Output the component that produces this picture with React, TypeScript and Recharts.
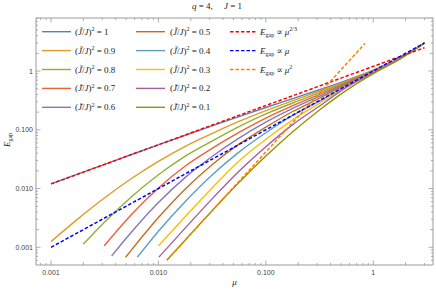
import React from 'react';
import { LineChart, Line, XAxis, YAxis } from 'recharts';

// (J~/J)^2 values for the ten curves
const ratios = ['1', '0.9', '0.8', '0.7', '0.6', '0.5', '0.4', '0.3', '0.2', '0.1'];
const colors = ['#5E81B5', '#E19C24', '#8FB032', '#EB6235', '#8778B3', '#C56E1A', '#5D9EC7', '#FFBF00', '#A5609D', '#929600'];

// [mu, E_gap] samples
const curve1: [number, number][] = [[0.001, 0.012], [0.00178, 0.01766], [0.00316, 0.02588], [0.00562, 0.038], [0.01, 0.0556], [0.0178, 0.0809], [0.0316, 0.117], [0.0562, 0.168], [0.1, 0.24], [0.178, 0.34], [0.316, 0.481], [0.562, 0.695], [1, 1.04], [1.78, 1.679], [3, 3.0]];
const curve2: [number, number][] = [[0.001, 0.00125], [0.00178, 0.00305], [0.00316, 0.00698], [0.00562, 0.01483], [0.01, 0.029], [0.0178, 0.0524], [0.0316, 0.0865], [0.0562, 0.1387], [0.1, 0.212], [0.178, 0.313], [0.316, 0.455], [0.562, 0.675], [1, 1.028], [1.78, 1.671], [3, 3.0]];
const curve3: [number, number][] = [[0.002, 0.00113], [0.00316, 0.0027], [0.00562, 0.00726], [0.01, 0.0172], [0.0178, 0.0357], [0.0316, 0.0643], [0.0562, 0.1132], [0.1, 0.186], [0.178, 0.286], [0.316, 0.4285], [0.562, 0.655], [1, 1.016], [1.78, 1.667], [3, 3.0]];
const curve4: [number, number][] = [[0.00313, 0.00106], [0.00562, 0.00361], [0.01, 0.0102], [0.0178, 0.0242], [0.0316, 0.0482], [0.0562, 0.0902], [0.1, 0.1585], [0.178, 0.257], [0.316, 0.401], [0.562, 0.635], [1, 1.005], [1.78, 1.66], [3, 3.0]];
const curve5: [number, number][] = [[0.00367, 0.000714], [0.00562, 0.00182], [0.01, 0.00577], [0.0178, 0.0155], [0.0316, 0.0351], [0.0562, 0.0721], [0.1, 0.1349], [0.178, 0.2317], [0.316, 0.373], [0.562, 0.617], [1, 0.993], [1.78, 1.652], [3, 3.0]];
const curve6: [number, number][] = [[0.00495, 0.000676], [0.00562, 0.000904], [0.01, 0.00321], [0.0178, 0.00986], [0.0316, 0.0255], [0.0562, 0.0569], [0.1, 0.1109], [0.178, 0.205], [0.316, 0.345], [0.562, 0.596], [1, 0.982], [1.78, 1.648], [3, 3.0]];
const curve7: [number, number][] = [[0.00637, 0.000681], [0.01, 0.00188], [0.0178, 0.00603], [0.0316, 0.017], [0.0562, 0.0417], [0.1, 0.0891], [0.178, 0.1758], [0.316, 0.309], [0.562, 0.556], [1, 0.968], [1.78, 1.641], [3, 3.0]];
const curve8: [number, number][] = [[0.01, 0.00106], [0.0178, 0.00335], [0.0316, 0.01023], [0.0562, 0.0295], [0.1, 0.0692], [0.178, 0.1479], [0.316, 0.285], [0.562, 0.543], [1, 0.955], [1.78, 1.633], [3, 3.0]];
const curve9: [number, number][] = [[0.0101, 0.000681], [0.0178, 0.00214], [0.0316, 0.00668], [0.0562, 0.0197], [0.1, 0.0516], [0.178, 0.1225], [0.316, 0.254], [0.562, 0.527], [1, 0.933], [1.78, 1.622], [3, 3.0]];
const curve10: [number, number][] = [[0.012, 0.00061], [0.0178, 0.00133], [0.0316, 0.0042], [0.0562, 0.01268], [0.1, 0.0357], [0.178, 0.0929], [0.316, 0.2178], [0.562, 0.468], [1, 0.902], [1.78, 1.603], [3, 3.0]];
const curves = [curve1, curve2, curve3, curve4, curve5, curve6, curve7, curve8, curve9, curve10];

// reference power laws
const fitTwoThirds: [number, number][] = [[0.001, 0.012], [3, 2.5]];
const fitLinear: [number, number][] = [[0.001, 0.001], [3, 3]];
const fitSquare: [number, number][] = [[0.012, 0.000605], [0.84, 2.96]];
const fitColors = ['#FF0000', '#0000FF', '#FF8000'];
const fitExponents = ['2/3', '', '2'];
const fits = [fitTwoThirds, fitLinear, fitSquare];

const xTicks = [0.0008, 0.0009, 0.001, 0.002, 0.003, 0.004, 0.005, 0.006, 0.007, 0.008, 0.009, 0.01, 0.02, 0.03, 0.04, 0.05, 0.06, 0.07, 0.08, 0.09, 0.1, 0.2, 0.3, 0.4, 0.5, 0.6, 0.7, 0.8, 0.9, 1, 2, 3];
const yTicks = [0.0006, 0.0007, 0.0008, 0.0009, 0.001, 0.002, 0.003, 0.004, 0.005, 0.006, 0.007, 0.008, 0.009, 0.01, 0.02, 0.03, 0.04, 0.05, 0.06, 0.07, 0.08, 0.09, 0.1, 0.2, 0.3, 0.4, 0.5, 0.6, 0.7, 0.8, 0.9, 1, 2, 3, 4, 5, 6, 7, 8];
const majorLabels: Record<string, string> = { '0.001': '0.001', '0.01': '0.010', '0.1': '0.100', '1': '1' };

const X_DOMAIN = [0.000725, 3.6];
const Y_DOMAIN = [0.0005, 8];

const LEFT = 36, RIGHT = 433, TOP = 18, BOTTOM = 265;
const FRAME = '#9a9a9a';
const LABEL_COLOR = '#444';
const TICK_FONT = 'Liberation Sans, Arial, sans-serif';
const SERIF = 'Liberation Serif, DejaVu Serif, serif';

const toRows = (pts: [number, number][]) => pts.map(([mu, E]) => ({ mu, E }));

const tickKind = (v: number) => {
  const l = Math.log10(v);
  if (Math.abs(l - Math.round(l)) < 1e-6) return 'major';
  const lead = Math.round(v / Math.pow(10, Math.floor(l + 1e-9)));
  if (lead === 2) return 'mid';
  return 'minor';
};
const tickLen = (v: number) => (tickKind(v) === 'major' ? 4.5 : tickKind(v) === 'mid' ? 3 : 2);

const XTickBottom = (props: any) => {
  const { x, payload } = props;
  const v = payload.value;
  const label = majorLabels[String(v)];
  return (
    <g>
      <line x1={x} x2={x} y1={BOTTOM} y2={BOTTOM - tickLen(v)} stroke={FRAME} strokeWidth={0.8} />
      {label && (
        <text x={x} y={275} textAnchor="middle" fontSize={7} fontFamily={TICK_FONT} fill={LABEL_COLOR}>{label}</text>
      )}
    </g>
  );
};
const XTickTop = (props: any) => {
  const { x, payload } = props;
  return <line x1={x} x2={x} y1={TOP} y2={TOP + tickLen(payload.value)} stroke={FRAME} strokeWidth={0.8} />;
};
const YTickLeft = (props: any) => {
  const { y, payload } = props;
  const v = payload.value;
  const label = majorLabels[String(v)];
  return (
    <g>
      <line x1={LEFT} x2={LEFT + tickLen(v)} y1={y} y2={y} stroke={FRAME} strokeWidth={0.8} />
      {label && (
        <text x={33} y={y + 2.5} textAnchor="end" fontSize={7} fontFamily={TICK_FONT} fill={LABEL_COLOR}>{label}</text>
      )}
    </g>
  );
};
const YTickRight = (props: any) => {
  const { y, payload } = props;
  return <line x1={RIGHT} x2={RIGHT - tickLen(payload.value)} y1={y} y2={y} stroke={FRAME} strokeWidth={0.8} />;
};

const RatioLabel = ({ x, y, value }: { x: number; y: number; value: string }) => (
  <text x={x} y={y} fontSize={9} fontFamily={SERIF} fill="#222">
    <tspan>(</tspan>
    <tspan fontStyle="italic">J&#x0303;</tspan>
    <tspan>/</tspan>
    <tspan fontStyle="italic">J</tspan>
    <tspan>)</tspan>
    <tspan dy={-3.5} fontSize={6}>2</tspan>
    <tspan dy={3.5}>{` = ${value}`}</tspan>
  </text>
);

const FitLabel = ({ x, y, exp }: { x: number; y: number; exp: string }) => (
  <text x={x} y={y} fontSize={9} fontFamily={SERIF} fill="#222">
    <tspan fontStyle="italic">E</tspan>
    <tspan dy={2} fontSize={6}>gap</tspan>
    <tspan dy={-2}>{' \u221D '}</tspan>
    <tspan fontStyle="italic">{'\u03BC'}</tspan>
    {exp && <tspan dy={-3.5} fontSize={6}>{exp}</tspan>}
  </text>
);

const rowY = [31.7, 50.6, 69.5, 88.4, 107.3];

const Overlay = () => (
  <svg width={436} height={294} style={{ position: 'absolute', left: 0, top: 0, pointerEvents: 'none' }}>
    <text x={217} y={9} textAnchor="middle" fontSize={9} fontFamily={SERIF} fill="#222">
      <tspan fontStyle="italic">q</tspan>
      <tspan>{' = 4,\u2003 '}</tspan>
      <tspan fontStyle="italic">J</tspan>
      <tspan>{' = 1'}</tspan>
    </text>
    <text x={234.5} y={285} textAnchor="middle" fontSize={9} fontFamily={SERIF} fontStyle="italic" fill="#222">{'\u03BC'}</text>
    <text transform="translate(10,140) rotate(-90)" textAnchor="middle" fontSize={9} fontFamily={SERIF} fill="#222">
      <tspan fontStyle="italic">E</tspan>
      <tspan dy={2} fontSize={6}>gap</tspan>
    </text>
    {ratios.map((r, i) => {
      const col = i < 5 ? 0 : 1;
      const row = i % 5;
      const sx = col === 0 ? 42 : 136;
      const tx = col === 0 ? 75 : 170;
      return (
        <g key={r}>
          <line x1={sx} x2={sx + 29} y1={rowY[row]} y2={rowY[row]} stroke={colors[i]} strokeWidth={1.4} />
          <RatioLabel x={tx} y={rowY[row] + 3} value={r} />
        </g>
      );
    })}
    {fitColors.map((c, i) => (
      <g key={c}>
        <line x1={230} x2={257} y1={rowY[i]} y2={rowY[i]} stroke={c} strokeWidth={1.4} strokeDasharray="3.5 2" />
        <FitLabel x={260} y={rowY[i] + 3} exp={fitExponents[i]} />
      </g>
    ))}
  </svg>
);

export default function App() {
  return (
    <div style={{ position: 'absolute', left: 0, top: 0, width: 436, height: 294, background: '#fff' }}>
      <LineChart width={436} height={294} margin={{ top: 0, right: 0, bottom: 0, left: 0 }}>
        <XAxis xAxisId="b" dataKey="mu" type="number" scale="log" domain={X_DOMAIN} allowDataOverflow ticks={xTicks} interval={0} height={29} orientation="bottom" tick={<XTickBottom />} tickLine={false} axisLine={{ stroke: FRAME }} />
        <XAxis xAxisId="t" dataKey="mu" type="number" scale="log" domain={X_DOMAIN} allowDataOverflow ticks={xTicks} interval={0} height={18} orientation="top" tick={<XTickTop />} tickLine={false} axisLine={{ stroke: FRAME }} />
        <YAxis yAxisId="l" dataKey="E" type="number" scale="log" domain={Y_DOMAIN} allowDataOverflow ticks={yTicks} interval={0} width={36} orientation="left" tick={<YTickLeft />} tickLine={false} axisLine={{ stroke: FRAME }} />
        <YAxis yAxisId="r" dataKey="E" type="number" scale="log" domain={Y_DOMAIN} allowDataOverflow ticks={yTicks} interval={0} width={3} orientation="right" tick={<YTickRight />} tickLine={false} axisLine={{ stroke: FRAME }} />
        {curves.map((c, i) => (
          <Line key={`c${i}`} xAxisId="b" yAxisId="l" data={toRows(c)} dataKey="E" type="monotone" stroke={colors[i]} strokeWidth={1.4} dot={false} isAnimationActive={false} />
        ))}
        {fits.map((f, i) => (
          <Line key={`f${i}`} xAxisId="b" yAxisId="l" data={toRows(f)} dataKey="E" type="linear" stroke={fitColors[i]} strokeWidth={1.5} strokeDasharray="3.5 2" dot={false} isAnimationActive={false} />
        ))}
      </LineChart>
      <Overlay />
    </div>
  );
}
